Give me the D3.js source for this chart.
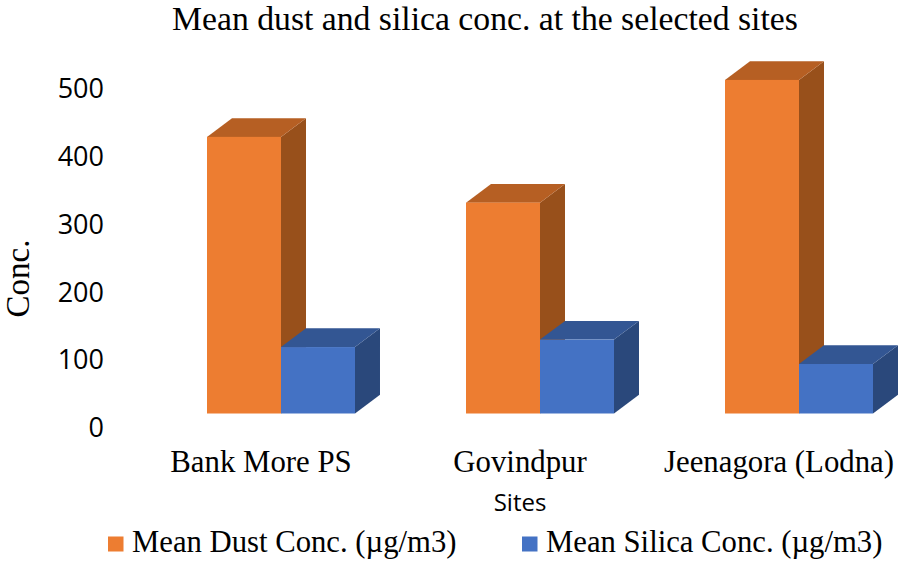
<!DOCTYPE html>
<html>
<head>
<meta charset="utf-8">
<script src="https://cdn.jsdelivr.net/npm/d3@7"></script>
<style>
  html, body { margin: 0; padding: 0; background: #fff; }
</style>
</head>
<body>
<div id="chart"></div>
<script>
const sites = ["Bank More PS", "Govindpur", "Jeenagora (Lodna)"];
const seriesNames = ["Mean Dust Conc. (µg/m3)", "Mean Silica Conc. (µg/m3)"];
const dustValues = [408, 311, 492];
const silicaValues = [98, 109, 73];
const yTicks = [0, 100, 200, 300, 400, 500];

const serif = "'Liberation Serif', serif";
const sans = "'Open Sans', sans-serif";

const width = 898;
const height = 562;

// front, top and side shades of each series
const shades = [
  { front: "#ed7d31", top: "#b65f23", side: "#98501b" },
  { front: "#4472c4", top: "#335693", side: "#2a487b" },
];

// depth of the 3d box, in px
const depthX = 25;
const depthY = 18.7;

const svg = d3
  .select("#chart")
  .append("svg")
  .attr("width", width)
  .attr("height", height)
  .style("display", "block")
  .style("background", "#fff");

const y = d3.scaleLinear().domain([0, 500]).range([413.5, 74.5]);

const x0 = d3.scaleBand().domain(sites).range([207, 873]).paddingInner(0.4286).paddingOuter(0);
const x1 = d3.scaleBand().domain([0, 1]).range([0, x0.bandwidth()]);

const rows = sites.flatMap((site, i) => [
  { site, s: 0, value: dustValues[i] },
  { site, s: 1, value: silicaValues[i] },
]);

const boxes = svg
  .append("g")
  .selectAll("g")
  .data(rows)
  .join("g")
  .attr("transform", (d) => `translate(${x0(d.site) + x1(d.s)}, 0)`);

const w = x1.bandwidth();

// side first so the next bar's front covers it
boxes
  .append("path")
  .attr("fill", (d) => shades[d.s].side)
  .attr("d", (d) => {
    const t = y(d.value);
    const b = y(0);
    return `M${w},${t}L${w + depthX},${t - depthY}L${w + depthX},${b - depthY}L${w},${b}Z`;
  });

boxes
  .append("path")
  .attr("fill", (d) => shades[d.s].top)
  .attr("d", (d) => {
    const t = y(d.value);
    return `M0,${t}L${depthX},${t - depthY}L${w + depthX},${t - depthY}L${w},${t}Z`;
  });

boxes
  .append("rect")
  .attr("width", w)
  .attr("y", (d) => y(d.value))
  .attr("height", (d) => y(0) - y(d.value))
  .attr("fill", (d) => shades[d.s].front);

// y axis, labels sit a bit below the front of the box
const yAxis = svg
  .append("g")
  .attr("transform", "translate(104, 14.5)")
  .call(d3.axisLeft(y).tickValues(yTicks).tickSize(0).tickPadding(0));
yAxis.select(".domain").remove();
yAxis
  .selectAll("text")
  .attr("font-family", sans)
  .attr("font-size", 27)
  .attr("fill", "#000");

// x axis labels, centred a little left of the bars
const xAxis = svg
  .append("g")
  .attr("transform", "translate(-20, 450.5)")
  .call(d3.axisBottom(x0).tickSize(0).tickPadding(0));
xAxis.select(".domain").remove();
xAxis
  .selectAll("text")
  .attr("font-family", serif)
  .attr("font-size", 30.8)
  .attr("fill", "#000");

svg
  .append("text")
  .attr("x", 485)
  .attr("y", 30)
  .attr("text-anchor", "middle")
  .attr("font-family", serif)
  .attr("font-size", 33.7)
  .text("Mean dust and silica conc. at the selected sites");

svg
  .append("text")
  .attr("transform", "translate(29, 278.5) rotate(-90)")
  .attr("text-anchor", "middle")
  .attr("font-family", serif)
  .attr("font-size", 33)
  .text("Conc.");

svg
  .append("text")
  .attr("x", 520)
  .attr("y", 510.5)
  .attr("text-anchor", "middle")
  .attr("font-family", sans)
  .attr("font-size", 24)
  .text("Sites");

// legend
const legendX = [108, 522];
const legend = svg
  .append("g")
  .selectAll("g")
  .data(seriesNames)
  .join("g")
  .attr("transform", (d, i) => `translate(${legendX[i]}, 536.5)`);

legend
  .append("rect")
  .attr("width", 15.5)
  .attr("height", 15)
  .attr("fill", (d, i) => shades[i].front);

legend
  .append("text")
  .attr("x", 24)
  .attr("y", 15.5)
  .attr("font-family", serif)
  .attr("font-size", 30.7)
  .text((d) => d);
</script>
</body>
</html>
